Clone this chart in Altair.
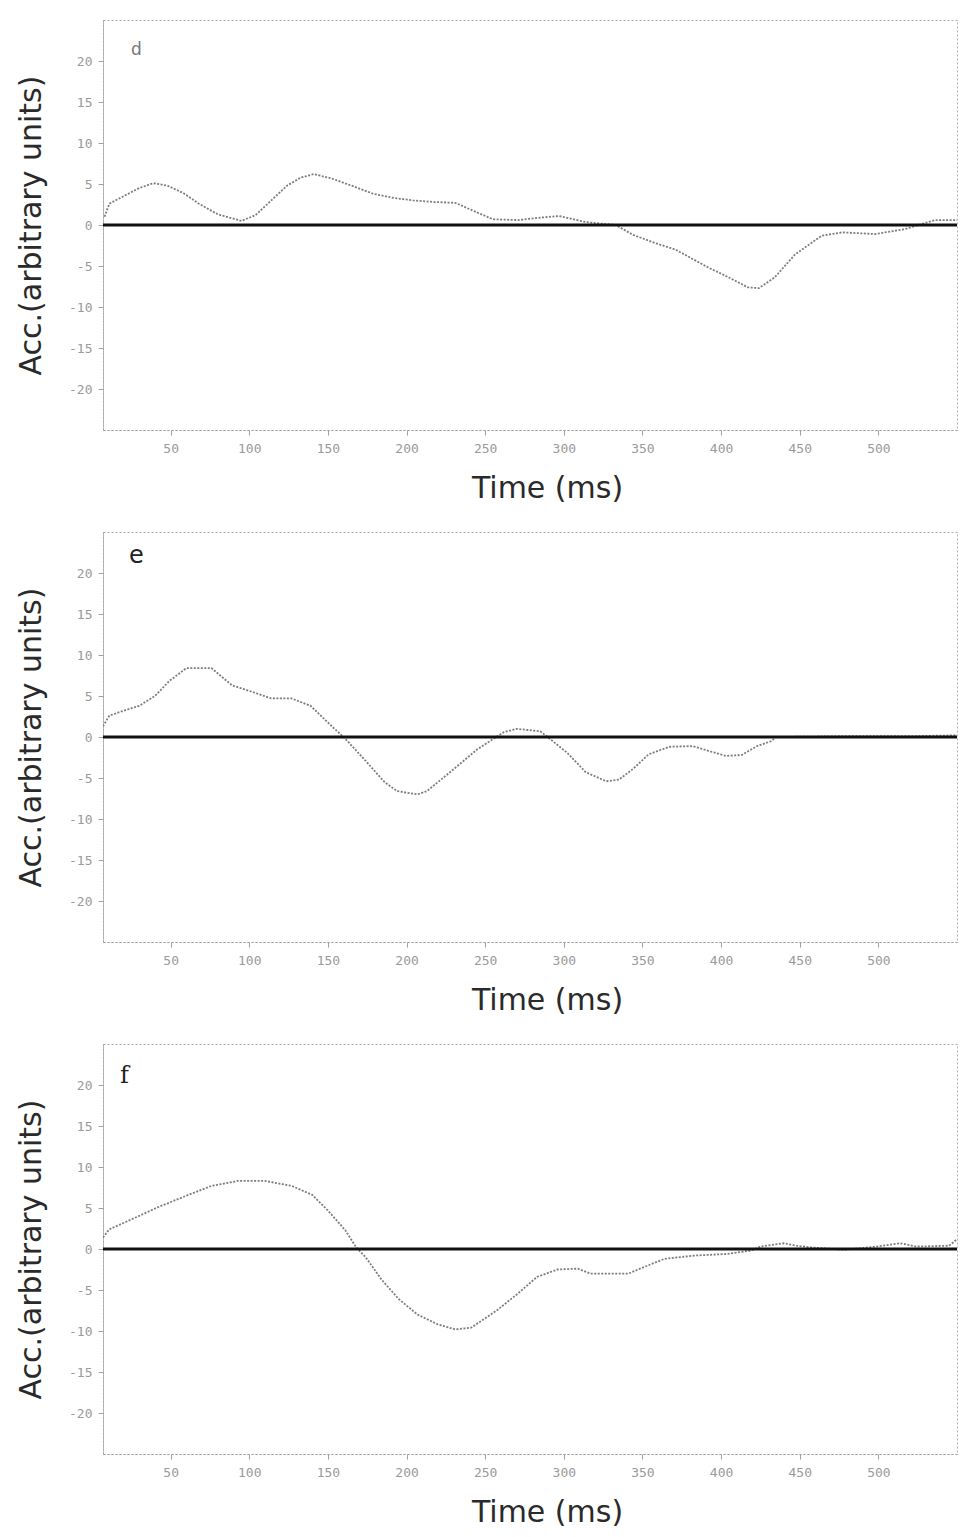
import altair as alt
import pandas as pd

# ---------------- data ----------------
panel_labels = ["d", "e", "f"]

d_time = [8, 11, 20, 30, 39, 48, 58, 68, 80, 95, 104, 114, 124, 133, 141, 152, 165, 179, 192, 204, 218, 231, 244, 255, 271, 285, 297, 314, 333, 344, 358, 371, 392, 405, 417, 424, 434, 447, 464, 477, 498, 517, 536, 550]
d_acc = [1.0, 2.6, 3.5, 4.5, 5.1, 4.8, 3.9, 2.6, 1.3, 0.5, 1.2, 3.0, 4.8, 5.8, 6.2, 5.7, 4.8, 3.8, 3.3, 3.0, 2.8, 2.7, 1.6, 0.7, 0.6, 0.9, 1.1, 0.35, 0.0, -1.2, -2.2, -3.0, -5.2, -6.4, -7.6, -7.7, -6.4, -3.6, -1.3, -0.9, -1.1, -0.5, 0.6, 0.6]

e_time = [7, 11, 20, 30, 40, 49, 60, 76, 89, 102, 114, 127, 139, 152, 161, 173, 186, 194, 207, 213, 232, 245, 253, 262, 270, 285, 289, 302, 314, 327, 335, 344, 354, 367, 382, 392, 403, 413, 423, 432, 435, 480, 520, 550]
e_acc = [1.3, 2.6, 3.2, 3.8, 5.0, 6.8, 8.4, 8.4, 6.3, 5.5, 4.7, 4.7, 3.8, 1.4, -0.2, -2.7, -5.5, -6.6, -7.0, -6.6, -3.6, -1.5, -0.5, 0.6, 1.0, 0.7, 0.1, -1.9, -4.3, -5.4, -5.2, -3.9, -2.1, -1.2, -1.1, -1.7, -2.3, -2.2, -1.1, -0.5, 0.0, 0.1, 0.1, 0.2]

f_time = [7, 11, 25, 42, 60, 76, 93, 110, 127, 140, 150, 161, 168, 174, 184, 195, 207, 220, 231, 241, 252, 258, 271, 283, 296, 309, 317, 341, 351, 364, 383, 404, 419, 425, 440, 448, 457, 478, 499, 514, 524, 545, 550]
f_acc = [1.4, 2.4, 3.6, 5.1, 6.5, 7.7, 8.3, 8.3, 7.7, 6.6, 4.7, 2.3, 0.2, -1.0, -3.7, -6.1, -8.0, -9.2, -9.8, -9.6, -8.2, -7.4, -5.4, -3.4, -2.5, -2.4, -3.0, -3.0, -2.2, -1.2, -0.8, -0.6, -0.2, 0.3, 0.7, 0.4, 0.2, -0.1, 0.3, 0.7, 0.3, 0.4, 1.2]

x_ticks = [50, 100, 150, 200, 250, 300, 350, 400, 450, 500]
y_ticks = [-20, -15, -10, -5, 0, 5, 10, 15, 20]
zero_level = [0]

series = {
    "d": (d_time, d_acc),
    "e": (e_time, e_acc),
    "f": (f_time, f_acc),
}

label_style = {
    "d": dict(x=28, y=30, size=17, color="#777", font="DejaVu Sans"),
    "e": dict(x=26, y=24, size=24, color="#222", font="DejaVu Sans"),
    "f": dict(x=17, y=32, size=24, color="#222", font="DejaVu Serif"),
}

W, H = 854, 410
X_DOMAIN = [7, 550]
Y_DOMAIN = [-25, 25]


def make_panel(key):
    times, accs = series[key]
    df = pd.DataFrame({"Time": times, "Acc": accs})
    xenc = alt.X(
        "Time:Q",
        scale=alt.Scale(domain=X_DOMAIN, nice=False, zero=False),
        axis=alt.Axis(values=x_ticks, title="Time (ms)", titleX=444),
    )
    yenc = alt.Y(
        "Acc:Q",
        scale=alt.Scale(domain=Y_DOMAIN, nice=False),
        axis=alt.Axis(values=y_ticks, title="Acc.(arbitrary units)",
                      labelExpr="'' + datum.value"),
    )
    curve = alt.Chart(df).mark_line(
        color="#7c7c7c", strokeWidth=1.8, strokeDash=[2, 1.5], clip=True
    ).encode(x=xenc, y=yenc)
    zero = alt.Chart(pd.DataFrame({"Acc": zero_level})).mark_rule(
        color="#111", strokeWidth=3.2
    ).encode(y=alt.Y("Acc:Q", scale=alt.Scale(domain=Y_DOMAIN, nice=False)))
    st = label_style[key]
    lab = alt.Chart(pd.DataFrame({"lab": [key]})).mark_text(
        align="left", baseline="middle", fontSize=st["size"], color=st["color"],
        font=st["font"],
    ).encode(x=alt.value(st["x"]), y=alt.value(st["y"]), text="lab:N")
    return alt.layer(curve, zero, lab).properties(width=W, height=H)


chart = alt.vconcat(*[make_panel(k) for k in panel_labels], spacing=27).properties(
    padding={"left": 8, "top": 11, "right": 0, "bottom": 0},
    background="white",
).configure_view(
    stroke="#b0b0b0", strokeDash=[2, 2], strokeWidth=1
).configure_axis(
    grid=False,
    domainColor="#a0a0a0",
    domainDash=[2, 2],
    tickColor="#a0a0a0",
    tickSize=5,
    labelFont="DejaVu Sans Mono",
    labelFontSize=13,
    labelColor="#9a9a9a",
    titleFont="DejaVu Sans",
    titleFontSize=30,
    titleFontWeight="normal",
    titleColor="#2a2a2a",
).configure_axisX(
    labelPadding=7, titlePadding=18,
).configure_axisY(
    labelPadding=6, titlePadding=22,
)

chart.save("out.html", embed_options={"renderer": "svg", "actions": False})
